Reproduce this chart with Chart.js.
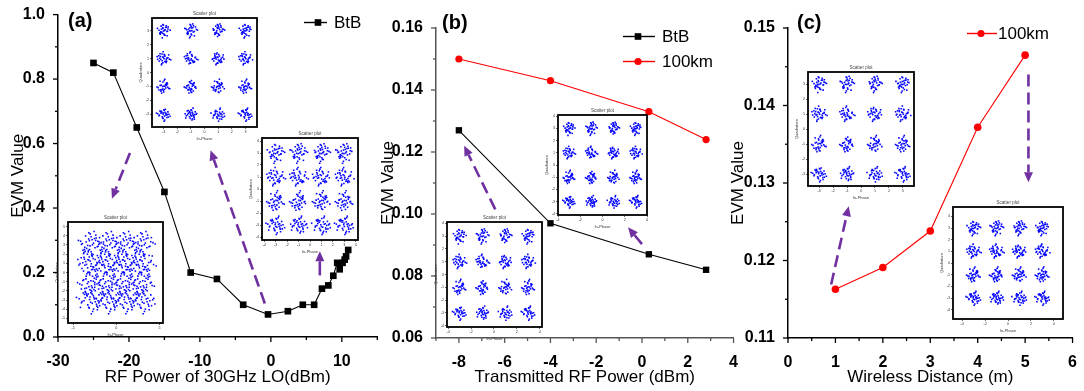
<!DOCTYPE html>
<html>
<head>
<meta charset="utf-8">
<script src="https://cdn.jsdelivr.net/npm/chart.js@4.4.0/dist/chart.umd.min.js"></script>
<style>
  body { margin: 0; background: #fff; width: 1084px; height: 391px; position: relative; overflow: hidden; }
  canvas { position: absolute; }
  canvas.inset { z-index: 2; }
</style>
</head>
<body>
<canvas id="panelA"></canvas>
<canvas id="panelB"></canvas>
<canvas id="panelC"></canvas>

<script>
// ---------- (a) EVM vs LO power ----------
const loPower = [-25, -22.2, -18.9, -15, -11.3, -7.6, -3.9, -0.4, 2.4, 4.5, 6.1, 7.2, 8.1, 8.8, 9.35, 9.7, 10.1, 10.4, 10.6, 10.9];
const evmBtbA = [0.85, 0.82, 0.65, 0.45, 0.20, 0.18, 0.10, 0.07, 0.08, 0.10, 0.10, 0.15, 0.16, 0.19, 0.23, 0.21, 0.23, 0.24, 0.25, 0.27];
const aXTicks = [-30, -20, -10, 0, 10];
const aXMinor = [-25, -15, -5, 5, 15];
const aYTicks = [0, 0.2, 0.4, 0.6, 0.8, 1.0];
const aYMinor = [0.1, 0.3, 0.5, 0.7, 0.9];

// ---------- (b) EVM vs transmitted RF power ----------
const txPower = [-8, -4, 0.3, 2.8];
const evmBtbB = [0.127, 0.097, 0.087, 0.082];
const evm100kmB = [0.150, 0.143, 0.133, 0.124];
const bXTicks = [-8, -6, -4, -2, 0, 2, 4];
const bXMinor = [-9, -7, -5, -3, -1, 1, 3];
const bYTicks = [0.06, 0.08, 0.10, 0.12, 0.14, 0.16];
const bYMinor = [0.07, 0.09, 0.11, 0.13, 0.15];

// ---------- (c) EVM vs wireless distance ----------
const distance = [1, 2, 3, 4, 5];
const evm100kmC = [0.1163, 0.1191, 0.1238, 0.1372, 0.1465];
const cXTicks = [0, 1, 2, 3, 4, 5, 6];
const cXMinor = [0.5, 1.5, 2.5, 3.5, 4.5, 5.5];
const cYTicks = [0.11, 0.12, 0.13, 0.14, 0.15];
const cYMinor = [0.115, 0.125, 0.135, 0.145];

// ---------- constellation insets (16-QAM, hand-typed noise pairs) ----------
const qamLevels = [-3, -1, 1, 3];
const noiseDx = [0.12,-0.35,0.58,-0.08,0.27,-0.61,0.04,0.44,-0.22,0.71,-0.49,0.15,-0.03,0.33,-0.77,0.09,-0.18,0.52,-0.41,0.24,
                 0.86,-0.12,0.38,-0.57,0.06,-0.29,0.63,-0.95,0.19,-0.06,0.47,-0.34,0.01,0.29,-0.68,0.41,-0.15,0.78,-0.44,0.21];
const noiseDy = [-0.21,0.14,0.33,-0.52,0.07,-0.18,0.61,-0.39,0.26,0.02,0.45,-0.73,0.19,-0.11,0.08,0.55,-0.31,-0.04,0.36,0.67,
                 -0.25,-0.46,0.12,-0.09,-0.88,0.41,-0.36,0.17,0.29,0.03,-0.62,0.51,-0.14,0.82,-0.47,-0.27,0.39,0.11,-0.05,-0.58];

const FONT = "'Liberation Sans', Arial, sans-serif";

function pts(xs, ys) { return xs.map((x, i) => ({ x: x, y: ys[i] })); }

function constellation(spread, n) {
  const out = [];
  let c = 0;
  for (const qi of qamLevels) {
    for (const qq of qamLevels) {
      for (let k = 0; k < n; k++) {
        const j = (k + c * 7) % noiseDx.length;
        let dx = noiseDx[j], dy = noiseDy[j];
        const r = c % 4;                       // turn the pattern per cluster
        if (r === 1) { const t = dx; dx = dy; dy = -t; }
        else if (r === 2) { dx = -dx; dy = -dy; }
        else if (r === 3) { const t = dx; dx = -dy; dy = t; }
        out.push({ x: qi + dx * spread, y: qq + dy * spread });
      }
      c++;
    }
  }
  return out;
}

// ticks, legend, panel label and arrows for the main panels
const panelDecor = {
  id: 'panelDecor',
  afterDraw(chart, args, o) {
    const ctx = chart.ctx, xs = chart.scales.x, ys = chart.scales.y;
    ctx.save();
    ctx.strokeStyle = o.axisColor;
    ctx.lineWidth = 1.3;
    const tickX = (vals, len) => vals.forEach(v => {
      const p = xs.getPixelForValue(v);
      ctx.beginPath(); ctx.moveTo(p, xs.top); ctx.lineTo(p, xs.top + len); ctx.stroke();
    });
    const tickY = (vals, len) => vals.forEach(v => {
      const p = ys.getPixelForValue(v);
      ctx.beginPath(); ctx.moveTo(ys.right, p); ctx.lineTo(ys.right - len, p); ctx.stroke();
    });
    tickX(o.xTicks, 5); tickX(o.xMinor, 3);
    tickY(o.yTicks, 5); tickY(o.yMinor, 3);

    // arrows
    ctx.strokeStyle = '#7030A0';
    ctx.fillStyle = '#7030A0';
    o.arrows.forEach(a => {
      const x0 = xs.getPixelForValue(a.from[0]), y0 = ys.getPixelForValue(a.from[1]);
      const x1 = xs.getPixelForValue(a.to[0]), y1 = ys.getPixelForValue(a.to[1]);
      const ang = Math.atan2(y1 - y0, x1 - x0);
      const hl = 10, hw = 4.5;
      const bx = x1 - hl * Math.cos(ang), by = y1 - hl * Math.sin(ang);
      ctx.lineWidth = 2.6;
      ctx.setLineDash(a.dash ? [12, 6] : []);
      ctx.beginPath(); ctx.moveTo(x0, y0); ctx.lineTo(bx, by); ctx.stroke();
      ctx.setLineDash([]);
      ctx.beginPath();
      ctx.moveTo(x1, y1);
      ctx.lineTo(bx + hw * Math.sin(ang), by - hw * Math.cos(ang));
      ctx.lineTo(bx - hw * Math.sin(ang), by + hw * Math.cos(ang));
      ctx.closePath(); ctx.fill();
    });

    // legend
    o.legend.forEach(l => {
      ctx.strokeStyle = l.color; ctx.fillStyle = l.color; ctx.lineWidth = 1.4;
      ctx.beginPath(); ctx.moveTo(l.x0, l.y); ctx.lineTo(l.x1, l.y); ctx.stroke();
      if (l.marker === 'rect') {
        ctx.fillRect(l.xm - 3.3, l.y - 3.3, 6.6, 6.6);
      } else {
        ctx.beginPath(); ctx.arc(l.xm, l.y, 3.6, 0, Math.PI * 2); ctx.fill();
      }
      ctx.fillStyle = '#000';
      ctx.font = '17px ' + FONT;
      ctx.textBaseline = 'middle'; ctx.textAlign = 'left';
      ctx.fillText(l.text, l.tx, l.y + 1);
    });

    // panel label
    ctx.fillStyle = '#000';
    ctx.font = 'bold 20px ' + FONT;
    ctx.textBaseline = 'middle'; ctx.textAlign = 'left';
    ctx.fillText(o.label.text, o.label.x, o.label.y);
    ctx.restore();
  }
};

function makePanel(p) {
  const cv = document.getElementById(p.id);
  cv.width = p.width; cv.height = 391;
  cv.style.left = p.left + 'px'; cv.style.top = '0px';
  const axisFont = { family: FONT, size: 16, weight: 'bold' };
  const titleFont = { family: FONT, size: 17 };
  return new Chart(cv, {
    type: 'scatter',
    data: { datasets: p.datasets },
    options: {
      responsive: false,
      animation: false,
      layout: { padding: { top: p.top, right: p.right, left: 0, bottom: 0 } },
      plugins: { legend: { display: false }, tooltip: { enabled: false }, panelDecor: p.decor },
      scales: {
        x: {
          type: 'linear', min: p.xMin, max: p.xMax,
          afterBuildTicks: s => { s.ticks = p.decor.xTicks.map(v => ({ value: v })); },
          afterFit: s => { s.height = 391 - p.bottom; },
          grid: { display: false },
          border: { display: true, color: p.decor.axisColor, width: 1.5 },
          ticks: { font: axisFont, color: '#000', padding: 7, autoSkip: false, maxRotation: 0,
                   callback: v => String(Math.round(v * 10) / 10) },
          title: { display: true, text: p.xTitle, font: titleFont, color: '#000', padding: { top: 0, bottom: 3 } }
        },
        y: {
          type: 'linear', min: p.yMin, max: p.yMax,
          afterBuildTicks: s => { s.ticks = p.decor.yTicks.map(v => ({ value: v })); },
          afterFit: s => { s.width = p.yWidth; },
          grid: { display: false },
          border: { display: true, color: p.decor.axisColor, width: 1.5 },
          ticks: { font: axisFont, color: '#000', padding: 5, autoSkip: false,
                   callback: v => v.toFixed(p.yDec) },
          title: { display: true, text: 'EVM Value', font: titleFont, color: '#000', padding: { top: p.yTitlePad, bottom: 0 } }
        }
      }
    },
    plugins: [panelDecor]
  });
}

const lineSet = (label, data, color, style, radius) => ({
  label: label, data: data, showLine: true, borderColor: color, borderWidth: 1.1,
  pointStyle: style, pointRadius: radius, pointBackgroundColor: color, pointBorderWidth: 0,
  pointBorderColor: color, clip: false
});

makePanel({
  id: 'panelA', left: 0, width: 382, top: 13, bottom: 337, right: 4, yWidth: 58,
  xMin: -30, xMax: 15, yMin: 0, yMax: 1, yDec: 1, yTitlePad: 8,
  xTitle: 'RF Power of 30GHz LO(dBm)',
  datasets: [lineSet('BtB', pts(loPower, evmBtbA), '#000', 'rect', 4.7)],
  decor: {
    axisColor: '#000', xTicks: aXTicks, xMinor: aXMinor, yTicks: aYTicks, yMinor: aYMinor,
    label: { text: '(a)', x: 68, y: 21 },
    legend: [{ text: 'BtB', color: '#000', marker: 'rect', x0: 304, x1: 327, xm: 318, tx: 334, y: 22.5 }],
    arrows: [
      { from: [-19.86, 0.571], to: [-22.4, 0.429], dash: true },
      { from: [-0.85, 0.104], to: [-8.5, 0.579], dash: true },
      { from: [6.9, 0.191], to: [6.9, 0.266], dash: false }
    ]
  }
});

makePanel({
  id: 'panelB', left: 376, width: 369, top: 28, bottom: 338, right: 8, yWidth: 60,
  xMin: -9, xMax: 4, yMin: 0.06, yMax: 0.16, yDec: 2, yTitlePad: 2,
  xTitle: 'Transmitted RF Power (dBm)',
  datasets: [
    lineSet('BtB', pts(txPower, evmBtbB), '#000', 'rect', 4.5),
    lineSet('100km', pts(txPower, evm100kmB), '#ff0000', 'circle', 3.6)
  ],
  decor: {
    axisColor: '#555', xTicks: bXTicks, xMinor: bXMinor, yTicks: bYTicks, yMinor: bYMinor,
    label: { text: '(b)', x: 66, y: 23 },
    legend: [
      { text: 'BtB', color: '#000', marker: 'rect', x0: 247, x1: 279, xm: 262, tx: 286, y: 36.5 },
      { text: '100km', color: '#ff0000', marker: 'circle', x0: 247, x1: 279, xm: 262, tx: 286, y: 61.5 }
    ],
    arrows: [
      { from: [-6.41, 0.1015], to: [-7.77, 0.122], dash: true },
      { from: [0.0, 0.0903], to: [-0.61, 0.0957], dash: false }
    ]
  }
});

makePanel({
  id: 'panelC', left: 727, width: 357, top: 28, bottom: 338, right: 8, yWidth: 61,
  xMin: 0, xMax: 6, yMin: 0.11, yMax: 0.15, yDec: 2, yTitlePad: 1,
  xTitle: 'Wireless Distance (m)',
  datasets: [lineSet('100km', pts(distance, evm100kmC), '#ff0000', 'circle', 3.8)],
  decor: {
    axisColor: '#000', xTicks: cXTicks, xMinor: cXMinor, yTicks: cYTicks, yMinor: cYMinor,
    label: { text: '(c)', x: 70, y: 23 },
    legend: [{ text: '100km', color: '#ff0000', marker: 'circle', x0: 240, x1: 270, xm: 254, tx: 271, y: 33.5 }],
    arrows: [
      { from: [0.91, 0.1169], to: [1.28, 0.127], dash: true },
      { from: [5.07, 0.144], to: [5.07, 0.1301], dash: true }
    ]
  }
});

// ---------- insets ----------
const insetFrame = {
  id: 'insetFrame',
  beforeDatasetsDraw(chart) {
    const a = chart.chartArea, ctx = chart.ctx;
    ctx.save(); ctx.fillStyle = '#fff'; ctx.fillRect(a.left, a.top, a.width, a.height); ctx.restore();
  },
  afterDraw(chart) {
    const a = chart.chartArea, ctx = chart.ctx;
    ctx.save();
    ctx.strokeStyle = '#000'; ctx.lineWidth = 1.8;
    ctx.strokeRect(a.left, a.top, a.width, a.height);
    ctx.fillStyle = '#444'; ctx.font = '4.5px ' + FONT;
    ctx.textAlign = 'center'; ctx.textBaseline = 'bottom';
    ctx.fillText('Scatter plot', (a.left + a.right) / 2, a.top - 2);
    ctx.restore();
  }
};

function makeInset(s) {
  const ml = 14, mt = 9, mr = 6, mb = 14;
  const cv = document.createElement('canvas');
  cv.className = 'inset';
  cv.width = s.frame[2] - s.frame[0] + ml + mr;
  cv.height = s.frame[3] - s.frame[1] + mt + mb;
  cv.style.left = (s.frame[0] - ml) + 'px';
  cv.style.top = (s.frame[1] - mt) + 'px';
  document.body.appendChild(cv);
  const tf = { family: FONT, size: 3.6 };
  const axis = (min, max, ticks, title, fit) => ({
    type: 'linear', min: min, max: max,
    afterBuildTicks: sc => { sc.ticks = ticks.map(v => ({ value: v })); },
    afterFit: fit,
    grid: { display: true, drawOnChartArea: false, tickLength: 2, color: '#000', lineWidth: 0.6 },
    border: { display: false },
    ticks: { font: tf, color: '#333', padding: 1, autoSkip: false, maxRotation: 0 },
    title: { display: true, text: title, font: { family: FONT, size: 4 }, color: '#333', padding: 0 }
  });
  new Chart(cv, {
    type: 'scatter',
    data: { datasets: [{ data: constellation(s.spread, s.n), pointStyle: 'rect', pointRadius: 1.1,
                         backgroundColor: '#0000ff', borderWidth: 0 }] },
    options: {
      responsive: false, animation: false,
      layout: { padding: { top: mt, right: mr, left: 0, bottom: 0 } },
      plugins: { legend: { display: false }, tooltip: { enabled: false } },
      scales: {
        x: axis(s.x[0], s.x[1], s.xt, 'In-Phase', sc => { sc.height = mb; }),
        y: axis(s.y[0], s.y[1], s.yt, 'Quadrature', sc => { sc.width = ml; })
      }
    },
    plugins: [insetFrame]
  });
}

const t3 = [-3, -2, -1, 0, 1, 2, 3];
const t4 = [-4, -3, -2, -1, 0, 1, 2, 3, 4];
const t4e = [-4, -2, 0, 2, 4];
const t5 = [-5, -4, -3, -2, -1, 0, 1, 2, 3, 4, 5];

[
  { frame: [152, 18, 257, 127], x: [-3.85, 3.85], y: [-3.9, 3.9], xt: t3, yt: t3, spread: 0.55, n: 30 },
  { frame: [262, 138, 358, 240], x: [-4.2, 4.2], y: [-4.25, 4.25], xt: t4, yt: t4, spread: 0.9, n: 36 },
  { frame: [68, 222, 163, 323], x: [-5.6, 5.4], y: [-5.5, 5.5], xt: [-5, 0, 5], yt: t5, spread: 1.7, n: 40 },
  { frame: [558, 115, 647, 215], x: [-4, 4], y: [-4.1, 4.1], xt: t4e, yt: t4, spread: 0.6, n: 30 },
  { frame: [447, 222, 542, 327], x: [-4.1, 4.2], y: [-4.1, 4.1], xt: t4e, yt: t4, spread: 0.65, n: 30 },
  { frame: [808, 72, 914, 186], x: [-3.8, 3.8], y: [-3.8, 3.8], xt: t3, yt: t3, spread: 0.6, n: 32 },
  { frame: [953, 207, 1063, 319], x: [-4.8, 4.8], y: [-4.8, 4.8], xt: t4e, yt: t4, spread: 0.7, n: 34 }
].forEach(makeInset);
</script>
</body>
</html>
